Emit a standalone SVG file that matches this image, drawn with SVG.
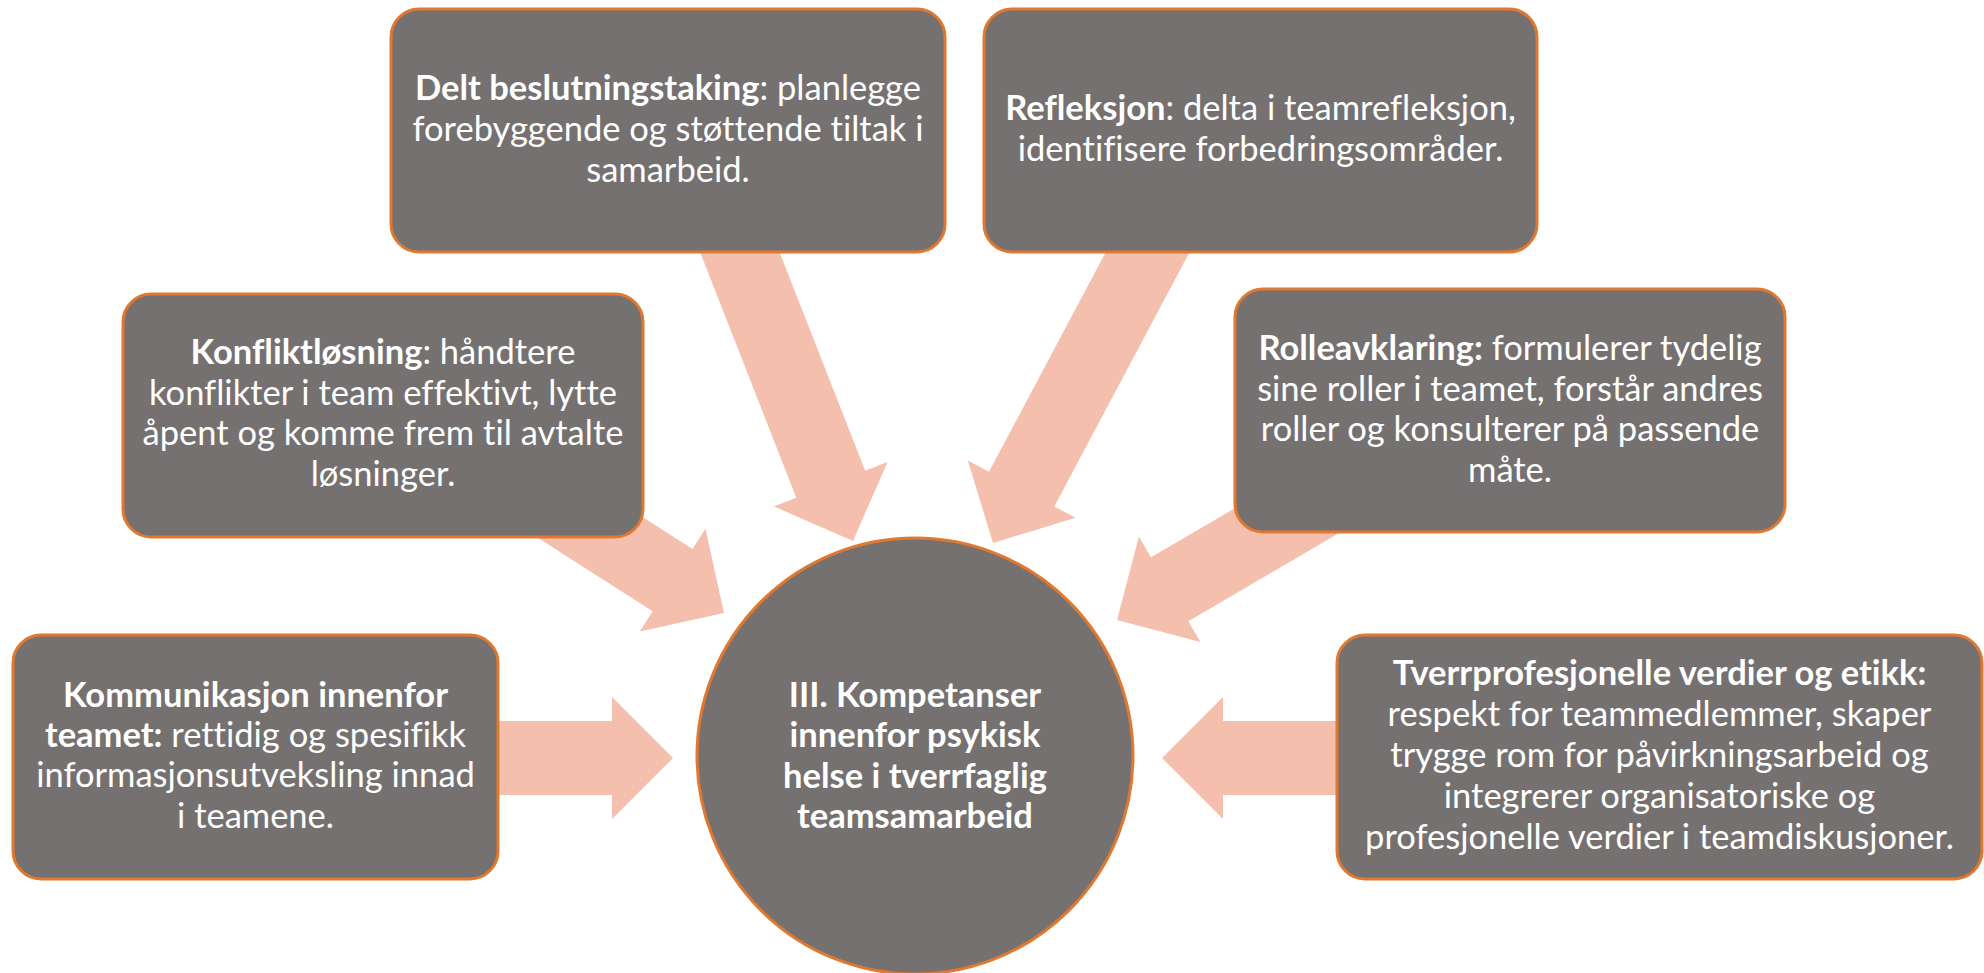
<svg xmlns="http://www.w3.org/2000/svg" width="1984" height="973" viewBox="0 0 1984 973">
  <style>
    .box { fill: #767171; stroke: #E0782F; stroke-width: 3; }
    .hub { fill: #767171; stroke: #E0782F; stroke-width: 3; }
    .arrow { fill: #F4C0AD; }
    .t { font-family: Lato, "Open Sans", "Liberation Sans", sans-serif; font-size: 34.5px; fill: #FFFFFF; text-anchor: middle; font-variant-ligatures: none; }
    .b { font-weight: bold; }
  </style>
  <rect width="1984" height="973" fill="#FFFFFF"/>

  <!-- Block arrows pointing in to the hub; tip at the local origin, pointing along +x -->
  <g id="connectors">
    <polygon class="arrow" transform="translate(853 541) rotate(68.6)" points="-350,-37 -61,-37 -61,-61 0,0 -61,61 -61,37 -350,37"/>
    <polygon class="arrow" transform="translate(993 543) rotate(118)" points="-370,-37 -61,-37 -61,-61 0,0 -61,61 -61,37 -370,37"/>
    <polygon class="arrow" transform="translate(724 613) rotate(32.6)" points="-250,-37 -61,-37 -61,-61 0,0 -61,61 -61,37 -250,37"/>
    <polygon class="arrow" transform="translate(1117 620) rotate(149.7)" points="-250,-37 -61,-37 -61,-61 0,0 -61,61 -61,37 -250,37"/>
    <polygon class="arrow" transform="translate(673 758)" points="-200,-37 -61,-37 -61,-61 0,0 -61,61 -61,37 -200,37"/>
    <polygon class="arrow" transform="translate(1162 758) rotate(180)" points="-210,-37 -61,-37 -61,-61 0,0 -61,61 -61,37 -210,37"/>
  </g>

  <g id="delt-beslutningstaking">
    <rect class="box" x="391" y="9" width="554" height="243" rx="28"/>
    <text class="t" x="668" y="100"><tspan class="b">Delt beslutningstaking</tspan>: planlegge</text>
    <text class="t" x="668" y="141">forebyggende og støttende tiltak i</text>
    <text class="t" x="668" y="182">samarbeid.</text>
  </g>

  <g id="refleksjon">
    <rect class="box" x="984" y="9" width="553" height="243" rx="28"/>
    <text class="t" x="1260.5" y="120"><tspan class="b">Refleksjon</tspan>: delta i teamrefleksjon,</text>
    <text class="t" x="1260.5" y="161">identifisere forbedringsområder.</text>
  </g>

  <g id="konfliktlosning">
    <rect class="box" x="123" y="294" width="520" height="243" rx="28"/>
    <text class="t" x="383" y="364"><tspan class="b">Konfliktløsning</tspan>: håndtere</text>
    <text class="t" x="383" y="404.5">konflikter i team effektivt, lytte</text>
    <text class="t" x="383" y="445">åpent og komme frem til avtalte</text>
    <text class="t" x="383" y="485.5">løsninger.</text>
  </g>

  <g id="rolleavklaring">
    <rect class="box" x="1235" y="289" width="550" height="243" rx="28"/>
    <text class="t" x="1510" y="360"><tspan class="b">Rolleavklaring:</tspan> formulerer tydelig</text>
    <text class="t" x="1510" y="400.5">sine roller i teamet, forstår andres</text>
    <text class="t" x="1510" y="441">roller og konsulterer på passende</text>
    <text class="t" x="1510" y="481.5">måte.</text>
  </g>

  <g id="kommunikasjon">
    <rect class="box" x="13" y="635" width="485" height="244" rx="28"/>
    <text class="t b" x="255.5" y="707">Kommunikasjon innenfor</text>
    <text class="t" x="255.5" y="747"><tspan class="b">teamet:</tspan> rettidig og spesifikk</text>
    <text class="t" x="255.5" y="787">informasjonsutveksling innad</text>
    <text class="t" x="255.5" y="828">i teamene.</text>
  </g>

  <g id="tverrprofesjonelle-verdier">
    <rect class="box" x="1337" y="635" width="645" height="244" rx="28"/>
    <text class="t b" x="1659.5" y="685">Tverrprofesjonelle verdier og etikk:</text>
    <text class="t" x="1659.5" y="726">respekt for teammedlemmer, skaper</text>
    <text class="t" x="1659.5" y="767">trygge rom for påvirkningsarbeid og</text>
    <text class="t" x="1659.5" y="808">integrerer organisatoriske og</text>
    <text class="t" x="1659.5" y="849">profesjonelle verdier i teamdiskusjoner.</text>
  </g>

  <g id="kompetanser">
    <circle class="hub" cx="915" cy="756" r="218"/>
    <text class="t b" x="915" y="707">III. Kompetanser</text>
    <text class="t b" x="915" y="747">innenfor psykisk</text>
    <text class="t b" x="915" y="788">helse i tverrfaglig</text>
    <text class="t b" x="915" y="828">teamsamarbeid</text>
  </g>
</svg>
